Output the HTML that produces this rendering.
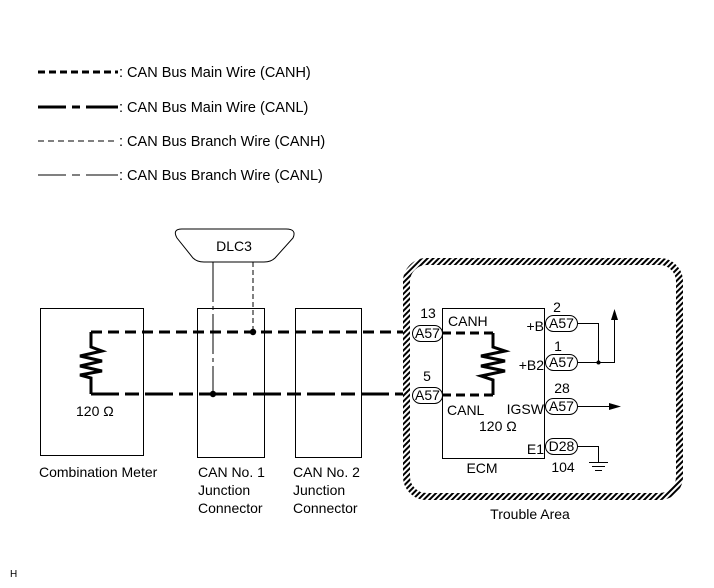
<!DOCTYPE html>
<html><head><meta charset="utf-8"><style>
body{margin:0;background:#fff}
svg{display:block}
text{font-family:"Liberation Sans",Arial,sans-serif;font-size:14px;fill:#000}
.lg{font-size:14.5px}
</style></head><body>
<svg width="714" height="588" viewBox="0 0 714 588" xmlns="http://www.w3.org/2000/svg">
<defs>
<pattern id="h" width="4" height="4" patternUnits="userSpaceOnUse" patternTransform="rotate(45)">
<rect width="4" height="4" fill="#fff"/><rect width="2" height="4" fill="#000"/>
</pattern>
</defs>
<!-- legend -->
<line x1="38" y1="72" x2="118" y2="72" stroke="#000" stroke-width="3" stroke-dasharray="7,4"/>
<text class="lg" x="119" y="77">: CAN Bus Main Wire (CANH)</text>
<g stroke="#000" stroke-width="3">
<line x1="38" y1="107" x2="66" y2="107"/><line x1="72" y1="107" x2="80" y2="107"/><line x1="86" y1="107" x2="118" y2="107"/>
</g>
<text class="lg" x="119" y="112">: CAN Bus Main Wire (CANL)</text>
<line x1="38" y1="141" x2="118" y2="141" stroke="#000" stroke-width="1" stroke-dasharray="6,4"/>
<text class="lg" x="119" y="146">: CAN Bus Branch Wire (CANH)</text>
<g stroke="#000" stroke-width="1">
<line x1="38" y1="175" x2="66" y2="175"/><line x1="72" y1="175" x2="80" y2="175"/><line x1="86" y1="175" x2="118" y2="175"/>
</g>
<text class="lg" x="119" y="180">: CAN Bus Branch Wire (CANL)</text>

<!-- DLC3 -->
<path d="M182 229 L286 229 Q297 229 293 238 L275 258 Q271 262 264 262 L204 262 Q197 262 193 258 L177 238 Q172 229 182 229 Z" fill="#fff" stroke="#000" stroke-width="1"/>
<text x="234" y="251" text-anchor="middle">DLC3</text>

<!-- boxes -->
<rect x="40.5" y="308.5" width="103" height="147" fill="none" stroke="#000"/>
<rect x="197.5" y="308.5" width="67" height="149" fill="none" stroke="#000"/>
<rect x="295.5" y="308.5" width="66" height="149" fill="none" stroke="#000"/>
<text x="39" y="477">Combination Meter</text>
<text x="198" y="477">CAN No. 1</text><text x="198" y="495">Junction</text><text x="198" y="513">Connector</text>
<text x="293" y="477">CAN No. 2</text><text x="293" y="495">Junction</text><text x="293" y="513">Connector</text>
<text x="76" y="416">120 Ω</text>

<!-- branch wires -->
<line x1="213" y1="262" x2="213" y2="394" stroke="#000" stroke-width="1" stroke-dasharray="40,4,4,4"/>
<line x1="253" y1="262" x2="253" y2="332" stroke="#000" stroke-width="1" stroke-dasharray="5,3"/>

<!-- meter resistor -->
<polyline points="91,332 91,347 102,351 80,356 102,361 80,366 102,371 80,375 91,378 91,394" fill="none" stroke="#000" stroke-width="3"/>
<!-- main wires -->
<line x1="91" y1="332" x2="412" y2="332" stroke="#000" stroke-width="3" stroke-dasharray="11,6"/>
<line x1="91" y1="394" x2="412" y2="394" stroke="#000" stroke-width="3" stroke-dasharray="28,6,14,6"/>
<circle cx="253" cy="332" r="3.2"/>
<circle cx="213" cy="394" r="3.2"/>

<!-- trouble area -->
<rect x="406.5" y="261.5" width="273" height="235" rx="20" fill="none" stroke="url(#h)" stroke-width="7"/>
<text x="530" y="519" text-anchor="middle">Trouble Area</text>

<!-- ECM -->
<rect x="442.5" y="308.5" width="102" height="150" fill="none" stroke="#000"/>
<text x="482" y="473" text-anchor="middle">ECM</text>
<line x1="442" y1="333" x2="493" y2="333" stroke="#000" stroke-width="3" stroke-dasharray="9,5"/>
<line x1="442" y1="395" x2="493" y2="395" stroke="#000" stroke-width="3" stroke-dasharray="9,5"/>
<polyline points="493,333 493,347 505,351 481,356 505,361 481,366 505,371 481,376 493,380 493,395" fill="none" stroke="#000" stroke-width="3"/>
<text x="448" y="326">CANH</text>
<text x="447" y="415">CANL</text>
<text x="479" y="431">120 Ω</text>
<text x="544" y="331" text-anchor="end">+B</text>
<text x="544" y="370" text-anchor="end">+B2</text>
<text x="544" y="414" text-anchor="end">IGSW</text>
<text x="544" y="454" text-anchor="end">E1</text>

<!-- connectors -->
<g fill="#fff" stroke="#000" stroke-width="1">
<rect x="412.5" y="325.5" width="30" height="16" rx="8"/>
<rect x="412.5" y="387.5" width="30" height="16" rx="8"/>
<rect x="545.5" y="315.5" width="32" height="16" rx="8"/>
<rect x="545.5" y="354.5" width="32" height="16" rx="8"/>
<rect x="545.5" y="398.5" width="32" height="16" rx="8"/>
<rect x="545.5" y="438.5" width="32" height="16" rx="8"/>
</g>
<text x="427.5" y="338" text-anchor="middle">A57</text>
<text x="427.5" y="400" text-anchor="middle">A57</text>
<text x="561.5" y="328" text-anchor="middle">A57</text>
<text x="561.5" y="367" text-anchor="middle">A57</text>
<text x="561.5" y="411" text-anchor="middle">A57</text>
<text x="561.5" y="451" text-anchor="middle">D28</text>
<text x="428" y="318" text-anchor="middle">13</text>
<text x="427" y="381" text-anchor="middle">5</text>
<text x="557" y="312" text-anchor="middle">2</text>
<text x="558" y="351" text-anchor="middle">1</text>
<text x="562" y="393" text-anchor="middle">28</text>
<text x="563" y="472" text-anchor="middle">104</text>

<!-- right wiring -->
<g stroke="#000" stroke-width="1" fill="none">
<polyline points="578,323.5 598.5,323.5 598.5,362.5"/>
<polyline points="578,362.5 614.5,362.5 614.5,318"/>
<line x1="578" y1="406.5" x2="610" y2="406.5"/>
<polyline points="578,446.5 598.5,446.5 598.5,462"/>
<line x1="589" y1="462.5" x2="608" y2="462.5"/>
<line x1="592" y1="466.5" x2="605" y2="466.5"/>
<line x1="595" y1="470.5" x2="602" y2="470.5"/>
</g>
<circle cx="598.5" cy="362.5" r="2"/>
<polygon points="614.5,309 611,320 618,320"/>
<polygon points="621,406.5 609,403 609,410"/>

<text x="10" y="577" style="font-size:10px">H</text>
</svg>
</body></html>
